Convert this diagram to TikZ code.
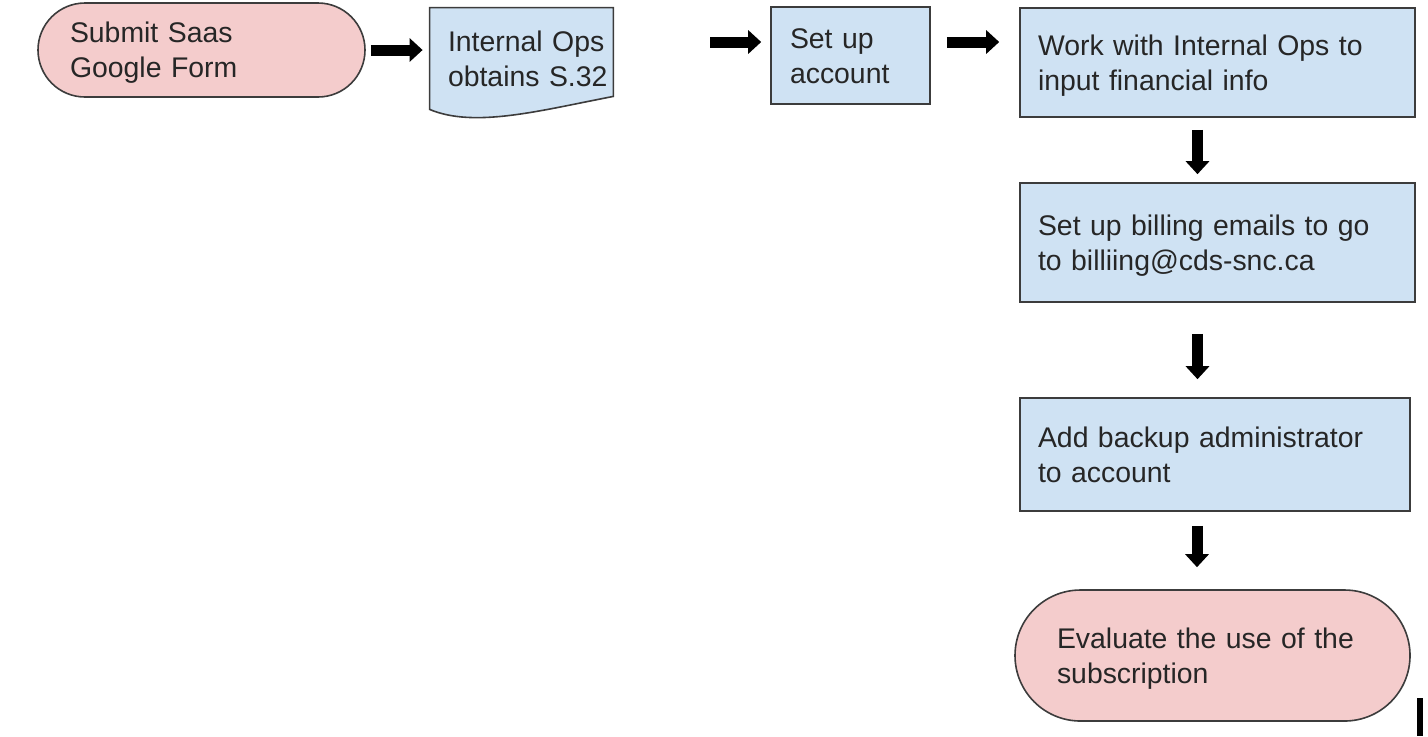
\documentclass[tikz,border=0pt]{standalone}
\usepackage{fontspec}
\setmainfont{Liberation Sans}
\usetikzlibrary{arrows.meta,backgrounds}
\definecolor{formpink}{HTML}{F4CCCC}
\definecolor{opsblue}{HTML}{CFE2F3}
\definecolor{edge}{HTML}{3C3C3C}

\begin{document}
\begin{tikzpicture} [x=0.5pt, y=-0.5pt, %
  every node/.style={font=\fontsize{14.2}{17.5}\selectfont, text=black!85, align=left, inner ysep=0pt, %
    execute at begin node={\rule{0pt}{13.2pt}}, execute at end node={\rule[-3pt]{0pt}{3pt}}}, %
  term/.style={draw=edge, line width=0.8pt, fill=formpink}, %
  box/.style={draw=edge, line width=0.8pt, fill=opsblue, inner xsep=9pt}, %
  blk/.style={-{Triangle[length=6.5pt, width=11.5pt]}, line width=5.5pt, black}] %
\useasboundingbox (0,0) rectangle (1428,736); %
 %
% top row
\node [term, rounded corners=23.5pt, inner xsep=16pt, text width=131.5pt, minimum height=47pt] %
  (submit) at (201.5,50) {Submit Saas\\Google Form}; %
\node [inner xsep=9pt, text width=80pt, minimum height=50.5pt] %
  (obtain) at (528,58.5) {Internal Ops\\obtains S.32}; %
\node [box, inner xsep=9.5pt, text width=60.5pt, minimum height=48.5pt] %
  (setup) at (850.5,55.5) {Set up\\account}; %
\node [box, text width=179.5pt, minimum height=54.5pt] %
  (finance) at (1217.5,62.5) {Work with Internal Ops to\\input financial info}; %
 %
% right column
\node [box, text width=179.5pt, minimum height=59.5pt] %
  (billing) at (1217.5,242.5) {Set up billing emails to go\\to billiing@cds-snc.ca}; %
\node [box, text width=177pt, minimum height=56.5pt] %
  (backup) at (1215,454.5) {Add backup administrator\\to account}; %
\node [term, rounded corners=32.75pt, inner xsep=21pt, text width=155.5pt, minimum height=65.5pt] %
  (evaluate) at (1212.5,655.5) {Evaluate the use of the\\subscription}; %
 %
% document shape with wavy bottom
\begin{scope}[on background layer] %
  \filldraw [draw=edge, line width=0.8pt, fill=opsblue] %
    (obtain.north west) -- ([xshift=-6.5pt]obtain.north east) -- ([shift={(-13,-13)}]obtain.south east) %
    .. controls ([shift={(-86,1)}]obtain.south east) and ([shift={(45,19)}]obtain.south west) %
    .. (obtain.south west) -- cycle; %
\end{scope} %
 %
% block arrows
\draw [blk, shorten <=2.5pt, shorten >=3.5pt] (submit.east) -- (submit.east -| obtain.west); %
\draw [blk, shorten <=42pt, shorten >=4.5pt] ([yshift=8.25pt]obtain.east) -- ([yshift=8.25pt]obtain.east -| setup.west); %
\draw [blk, shorten <=8pt, shorten >=10pt] ([yshift=6.75pt]setup.east) -- ([yshift=6.75pt]setup.east -| finance.west); %
\draw [blk, shorten <=6pt, shorten >=4pt] ([xshift=-10pt]finance.south) -- ([xshift=-10pt]finance.south |- billing.north); %
\draw [blk, shorten <=15.5pt, shorten >=9pt] ([xshift=-10pt]billing.south) -- ([xshift=-10pt]billing.south |- backup.north); %
\draw [blk, shorten <=7pt, shorten >=11pt] ([xshift=-9pt]backup.south) -- ([xshift=-9pt]backup.south |- evaluate.north); %
 %
\fill [black] (1417,698) rectangle (1423,736); %
\end{tikzpicture}
\end{document}
